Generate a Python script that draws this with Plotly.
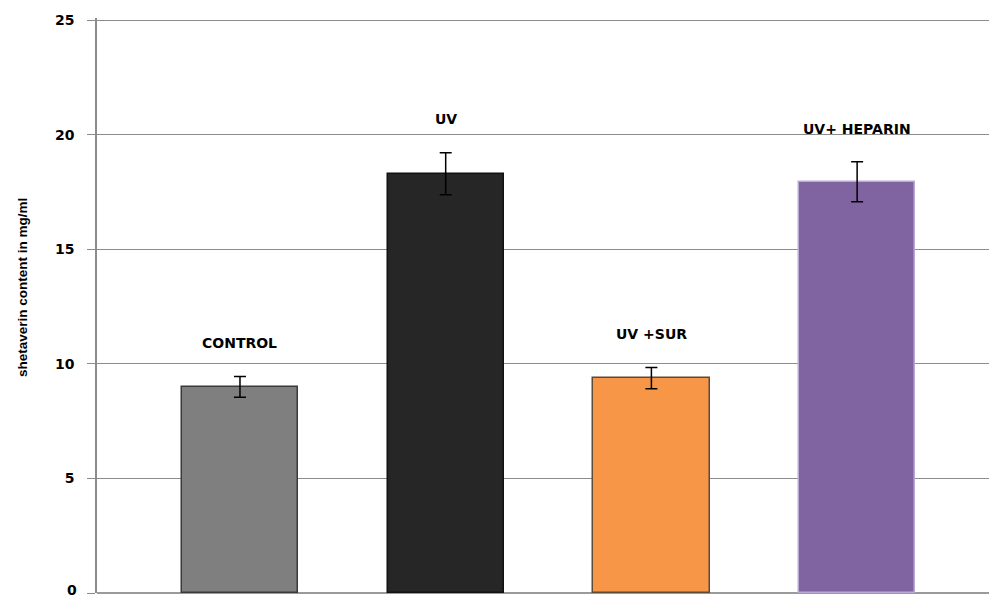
import plotly.graph_objects as go

# Shetaverin content per treatment group (mg/ml), mean and error
categories = ["CONTROL", "UV", "UV +SUR", "UV+ HEPARIN"]
values = [9.0, 18.3, 9.38, 17.95]
errors = [0.45, 0.92, 0.46, 0.87]
y_ticks = [0, 5, 10, 15, 20, 25]

fill_colors = ["#7f7f7f", "#262626", "#f79646", "#8064a2"]
edge_colors = ["#3a3a3a", "#111111", "#5a4a3a", "#b9a9d4"]

x_pos = list(range(len(categories)))

fig = go.Figure()
fig.add_trace(go.Bar(
    x=x_pos,
    y=values,
    width=0.565,
    marker=dict(color=fill_colors, line=dict(color=edge_colors, width=1.5)),
    error_y=dict(type="data", array=errors, visible=True,
                 color="#000000", thickness=1.5, width=6),
    showlegend=False,
))

tick_font = dict(family="DejaVu Sans, Verdana, sans-serif", size=14, color="#000000")
label_font = dict(family="DejaVu Sans, Verdana, sans-serif", size=14, color="#000000")
annotations = []
for xi, cat, v, e in zip(x_pos, categories, values, errors):
    annotations.append(dict(
        x=xi, y=v + e + 1.45, xref="x", yref="y",
        text="<b>%s</b>" % cat, showarrow=False,
        xanchor="center", yanchor="middle", font=label_font,
    ))

# the bottom tick label sits on the page edge, so it is nudged up slightly
annotations.append(dict(
    x=0, y=y_ticks[0], xref="paper", yref="y", xshift=-18, yshift=3,
    text="<b>%d</b>" % y_ticks[0], showarrow=False,
    xanchor="right", yanchor="middle", font=tick_font,
))

# rotated y-axis title
annotations.append(dict(
    x=-75 / 892, y=(593 - 288) / 575, xref="paper", yref="paper",
    text="<b>shetaverin content in mg/ml</b>", showarrow=False,
    textangle=-90, xanchor="center", yanchor="middle",
    font=dict(family="Liberation Sans Narrow, Arial Narrow, Liberation Sans, sans-serif",
              size=13.5, color="#000000"),
))

fig.update_layout(
    width=989, height=598,
    margin=dict(l=97, r=0, t=18, b=5, autoexpand=False),
    paper_bgcolor="#ffffff", plot_bgcolor="#ffffff",
    annotations=annotations,
    bargap=0,
)
fig.update_xaxes(
    range=[-0.695, 3.641], showticklabels=False, showgrid=False,
    zeroline=False, showline=False, ticks="", automargin=False,
)
fig.update_yaxes(
    range=[0, 25.1], tickvals=y_ticks,
    ticktext=[""] + ["<b>%d</b>" % t for t in y_ticks[1:]],
    showgrid=True, gridcolor="#8c8c8c", gridwidth=1,
    zeroline=True, zerolinecolor="#9a9a9a", zerolinewidth=2,
    showline=True, linecolor="#8c8c8c", linewidth=1.5,
    ticks="outside", ticklen=8, tickcolor="#8c8c8c", tickwidth=1,
    ticklabelstandoff=10, automargin=False,
    tickfont=tick_font,
)

fig.write_html("out.html")
